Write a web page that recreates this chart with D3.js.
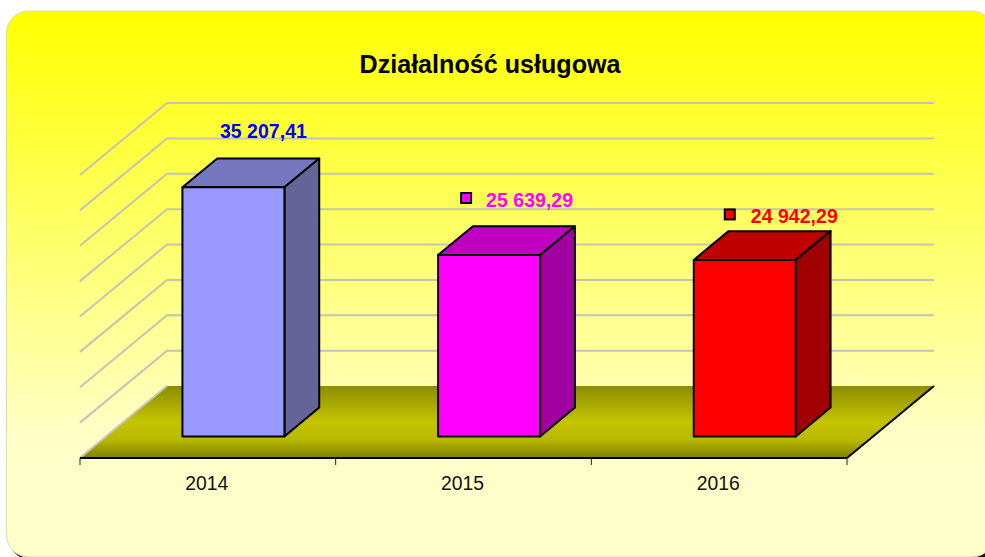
<!DOCTYPE html>
<html><head><meta charset="utf-8">
<script src="https://cdn.jsdelivr.net/npm/d3@7"></script>
<style>html,body{margin:0;padding:0;background:#fff;overflow:hidden}svg{display:block}text{font-family:"Liberation Sans",Arial,sans-serif}</style>
</head><body><svg id="c" width="985" height="557"></svg>
<script>
const title = "Działalność usługowa";
const categories = ["2014", "2015", "2016"];
const values = [35207.41, 25639.29, 24942.29];
const valueLabels = ["35 207,41", "25 639,29", "24 942,29"];
const gridTicks = [0, 5000, 10000, 15000, 20000, 25000, 30000, 35000, 40000];
const frontColors = ["#9999ff", "#ff00ff", "#ff0000"];
const topColors = ["#7777c0", "#c000c0", "#c00000"];
const sideColors = ["#646499", "#a000a0", "#a00000"];
const labelColors = ["#0000ff", "#ff00ff", "#ff0000"];
const hasMarker = [false, true, true];
// label placement relative to each bar's front-top-left corner
const labelDx = [37.5, 48, 57];
const labelDy = [-56, -55, -43.5];
const markerDx = [0, 23, 31];

const svg = d3.select("#c");
const defs = svg.append("defs");
const bg = defs.append("linearGradient").attr("id","bg").attr("x1",0).attr("y1",0).attr("x2",0).attr("y2",1);
bg.append("stop").attr("offset",0).attr("stop-color","#ffff00");
bg.append("stop").attr("offset",0.78).attr("stop-color","#ffffc8");
bg.append("stop").attr("offset",1).attr("stop-color","#ffffcc");
const fl = defs.append("linearGradient").attr("id","fl").attr("x1",0).attr("y1",0).attr("x2",0).attr("y2",1);
fl.append("stop").attr("offset",0).attr("stop-color","#8c8c00");
fl.append("stop").attr("offset",0.5).attr("stop-color","#c4c400");
fl.append("stop").attr("offset",0.75).attr("stop-color","#b8b800");
fl.append("stop").attr("offset",1).attr("stop-color","#808000");

// panel
svg.append("rect").attr("x",9).attr("y",14).attr("width",987.5).attr("height",546).attr("rx",22).attr("fill","#111");
svg.append("rect").attr("x",6.5).attr("y",11).attr("width",987.5).attr("height",546).attr("rx",22)
  .attr("fill","url(#bg)").attr("stroke","#dcdca8").attr("stroke-width",1);

// scales: front plane of the 3D box, plus a depth scale
const x = d3.scaleBand().domain(categories).range([80, 847]);
const y = d3.scaleLinear().domain([0, 40000]).range([458, 175]);
const depthX = d3.scaleLinear().domain([0, 1]).range([0, 87]);
const depthY = d3.scaleLinear().domain([0, 1]).range([0, -72]);
const px = (xv, d) => xv + depthX(d);
const py = (v, d) => y(v) + depthY(d);
const pts = a => a.map(p => p.join(",")).join(" ");
const x0 = x.range()[0], x1 = x.range()[1];

// gridlines
svg.append("g").selectAll("polyline").data(gridTicks.slice(1)).join("polyline")
  .attr("points", v => pts([[px(x0,0),py(v,0)],[px(x0,1),py(v,1)],[px(x1,1),py(v,1)]]))
  .attr("fill","none").attr("stroke","#c4c4b4").attr("stroke-width",2);

// floor
svg.append("polygon")
  .attr("points", pts([[px(x0,0),py(0,0)],[px(x0,1),py(0,1)],[px(x1,1),py(0,1)],[px(x1,0),py(0,0)]]))
  .attr("fill","url(#fl)");
svg.append("line").attr("x1",px(x0,0)).attr("y1",py(0,0)).attr("x2",px(x0,1)).attr("y2",py(0,1))
  .attr("stroke","#c4c4b4").attr("stroke-width",2);
svg.append("line").attr("x1",px(x1,0)).attr("y1",py(0,0)).attr("x2",px(x1,1)).attr("y2",py(0,1))
  .attr("stroke","#000").attr("stroke-width",2);

// bars
const dA = 0.3, dB = 0.7;
const bars = svg.append("g").selectAll("g").data(categories).join("g");
const bl = c => x(c) + x.bandwidth()*0.5 - 51.5;
const br = c => bl(c) + 102;
bars.append("polygon")
  .attr("points",(c,i)=>pts([[px(bl(c),dA),py(values[i],dA)],[px(bl(c),dB),py(values[i],dB)],[px(br(c),dB),py(values[i],dB)],[px(br(c),dA),py(values[i],dA)]]))
  .attr("fill",(c,i)=>topColors[i]);
bars.append("polygon")
  .attr("points",(c,i)=>pts([[px(br(c),dA),py(values[i],dA)],[px(br(c),dB),py(values[i],dB)],[px(br(c),dB),py(0,dB)],[px(br(c),dA),py(0,dA)]]))
  .attr("fill",(c,i)=>sideColors[i]);
bars.append("rect")
  .attr("x",c=>px(bl(c),dA)).attr("y",(c,i)=>py(values[i],dA))
  .attr("width",c=>br(c)-bl(c)).attr("height",(c,i)=>py(0,dA)-py(values[i],dA))
  .attr("fill",(c,i)=>frontColors[i]);
bars.selectAll("*").attr("stroke","#000").attr("stroke-width",2).attr("stroke-linejoin","round");

// axis
const axis = svg.append("g").attr("transform",`translate(0,${y(0)})`);
axis.append("line").attr("x1",x0).attr("x2",x1).attr("stroke","#000").attr("stroke-width",2);
const tickXs = categories.map(c=>x(c)).concat([x1]);
axis.selectAll("line.t").data(tickXs).join("line").attr("class","t")
  .attr("x1",d=>d).attr("x2",d=>d).attr("y1",0).attr("y2",7).attr("stroke","#222").attr("stroke-width",1);
axis.selectAll("text").data(categories).join("text")
  .attr("x",c=>x(c)+x.bandwidth()/2-1).attr("y",32).attr("text-anchor","middle")
  .attr("font-size",20).attr("textLength",43).attr("lengthAdjust","spacingAndGlyphs")
  .attr("fill","#111").text(c=>c);

// value labels
const lab = svg.append("g").selectAll("g").data(categories).join("g");
lab.append("text")
  .attr("x",(c,i)=>px(bl(c),dA)+labelDx[i])
  .attr("y",(c,i)=>py(values[i],dA)+labelDy[i]+7)
  .attr("font-size",21).attr("font-weight","bold")
  .attr("textLength",87).attr("lengthAdjust","spacingAndGlyphs")
  .attr("fill",(c,i)=>labelColors[i]).text((c,i)=>valueLabels[i]);
lab.filter((c,i)=>hasMarker[i]).append("rect")
  .attr("x",c=>px(bl(c),dA)+markerDx[categories.indexOf(c)])
  .attr("y",c=>py(values[categories.indexOf(c)],dA)+labelDy[categories.indexOf(c)]-7)
  .attr("width",10).attr("height",10)
  .attr("fill",c=>frontColors[categories.indexOf(c)]).attr("stroke","#000").attr("stroke-width",2);

// title
svg.append("text").attr("x",490).attr("y",73).attr("text-anchor","middle")
  .attr("font-size",26).attr("font-weight","bold").attr("textLength",261).attr("lengthAdjust","spacingAndGlyphs")
  .attr("fill","#000").text(title);
</script></body></html>
